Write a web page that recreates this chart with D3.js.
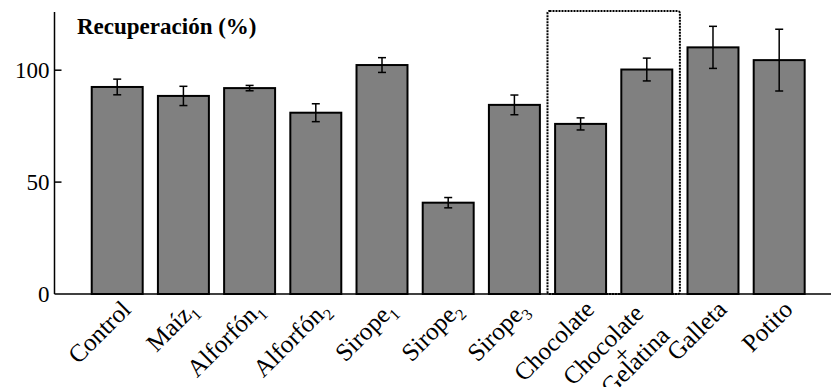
<!DOCTYPE html>
<html>
<head>
<meta charset="utf-8">
<script src="https://cdn.jsdelivr.net/npm/d3@7"></script>
<style>
  body { margin: 0; background: #fff; }
  svg { display: block; }
</style>
</head>
<body>
<svg id="chart" width="831" height="387"></svg>
<script>
// labels: [main text, subscript]
const categories = [
  ['Control', ''], ['Maíz', '1'], ['Alforfón', '1'], ['Alforfón', '2'],
  ['Sirope', '1'], ['Sirope', '2'], ['Sirope', '3'], ['Chocolate', ''],
  ['Chocolate+Gelatina', ''], ['Galleta', ''], ['Potito', '']
];
const recovery = [92.5, 88.5, 92, 81, 102.3, 40.8, 84.5, 76, 100.3, 110.2, 104.5];
const errors = [3.5, 4.3, 1.2, 4, 3.3, 2.3, 4.4, 2.7, 5.1, 9.4, 13.8];
const yTicks = [0, 50, 100];
const boxed = ['Chocolate', 'Chocolate+Gelatina'];

const FONT = '"Liberation Serif"';

const svg = d3.select('#chart');
const names = categories.map(c => c[0] + c[1]);

const x = d3.scaleBand()
  .domain(names)
  .range([76.5, 819.9])
  .padding(0.23);

const y = d3.scaleLinear()
  .domain([0, 126])
  .range([294, 12]);

const axisX = 54.5;

// bars
svg.append('g')
  .selectAll('rect')
  .data(recovery)
  .join('rect')
  .attr('x', (d, i) => x(names[i]))
  .attr('y', d => y(d))
  .attr('width', x.bandwidth())
  .attr('height', d => y(0) - y(d))
  .attr('fill', '#808080')
  .attr('stroke', '#000')
  .attr('stroke-width', 2);

// error bars
const err = svg.append('g')
  .attr('stroke', '#000')
  .attr('stroke-width', 1.5);

recovery.forEach((v, i) => {
  const cx = x(names[i]) + x.bandwidth() / 2;
  err.append('line')
    .attr('x1', cx).attr('x2', cx)
    .attr('y1', y(v + errors[i])).attr('y2', y(v - errors[i]));
  [v + errors[i], v - errors[i]].forEach(e => {
    err.append('line')
      .attr('x1', cx - 4).attr('x2', cx + 4)
      .attr('y1', y(e)).attr('y2', y(e));
  });
});

// dotted box around the chocolate pair
const gap = x.step() * x.paddingInner() / 2;
const bx0 = x(boxed[0]) - gap;
const bx1 = x(boxed[1]) + x.bandwidth() + gap;
svg.append('rect')
  .attr('x', bx0)
  .attr('y', y.range()[1] - 1)
  .attr('width', bx1 - bx0)
  .attr('height', y(0) - y.range()[1] + 1)
  .attr('rx', 2)
  .attr('fill', 'none')
  .attr('stroke', '#000')
  .attr('stroke-width', 2)
  .attr('stroke-dasharray', '2,1');

// axes
svg.append('line')
  .attr('x1', axisX).attr('x2', axisX)
  .attr('y1', y.range()[1]).attr('y2', y(0))
  .attr('stroke', '#000').attr('stroke-width', 1.5);
svg.append('line')
  .attr('x1', axisX).attr('x2', 831)
  .attr('y1', y(0)).attr('y2', y(0))
  .attr('stroke', '#000').attr('stroke-width', 1.5);

const ticks = svg.append('g');
yTicks.forEach(t => {
  if (t > 0) {
    ticks.append('line')
      .attr('x1', axisX).attr('x2', axisX + 7)
      .attr('y1', y(t)).attr('y2', y(t))
      .attr('stroke', '#000').attr('stroke-width', 1.5);
  }
  ticks.append('text')
    .attr('x', axisX - 5)
    .attr('y', y(t))
    .attr('dy', '0.34em')
    .attr('text-anchor', 'end')
    .style('font-family', FONT)
    .style('font-size', '23px')
    .text(t);
});

// title
svg.append('text')
  .attr('x', 77)
  .attr('y', 34)
  .style('font-family', FONT)
  .style('font-size', '23px')
  .style('font-weight', 'bold')
  .text('Recuperación (%)');

// category labels, rotated
categories.forEach((c, i) => {
  const cx = x(names[i]) + x.bandwidth() / 2;
  if (c[0] === 'Chocolate+Gelatina') {
    const g = svg.append('g')
      .attr('transform', `translate(${cx - 2},${y(0) + 21}) rotate(-45)`);
    const lines = [['Chocolate', 0, 0, 'end'], ['+', -44, 20, 'middle'], ['Gelatina', 3, 34, 'end']];
    lines.forEach(([l, lx, ly, anchor]) => {
      g.append('text')
        .attr('x', lx).attr('y', ly)
        .attr('text-anchor', anchor)
        .style('font-family', FONT)
        .style('font-size', '25px')
        .text(l);
    });
    return;
  }
  const t = svg.append('text')
    .attr('transform', `translate(${cx + 15},${y(0) + 17}) rotate(-45)`)
    .attr('text-anchor', 'end')
    .style('font-family', FONT)
    .style('font-size', '25px');
  t.append('tspan').text(c[0]);
  if (c[1]) {
    t.append('tspan')
      .attr('dy', 6)
      .style('font-size', '16px')
      .text(c[1]);
  }
});
</script>
</body>
</html>
